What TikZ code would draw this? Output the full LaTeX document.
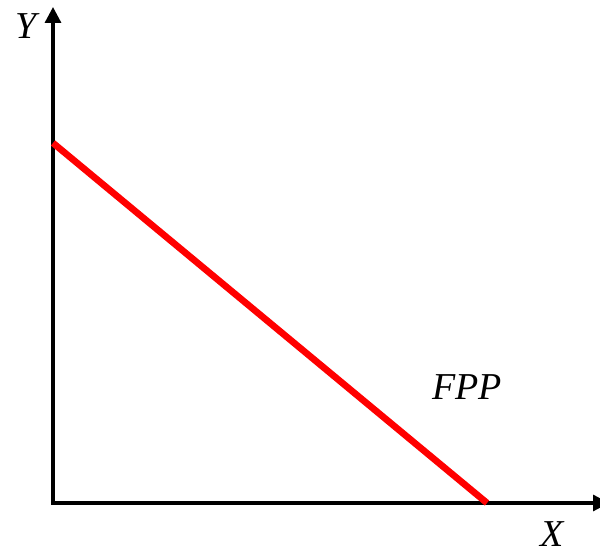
\documentclass[tikz,border=0pt]{standalone}
\usepackage{fontspec}
\setmainfont{Liberation Serif}[ItalicFont={Liberation Serif Italic}]
\usetikzlibrary{arrows.meta}
\begin{document}
\begin{tikzpicture}[x=0.75pt,y=0.75pt,
  axis/.style={line width=2.4pt,-{Triangle[length=12pt,width=12pt]}},
  curve/.style={red,line width=5pt},
  lbl/.style={font=\fontsize{28.5}{32}\selectfont\itshape,inner sep=0pt}]
\useasboundingbox (0,0) rectangle (600,553);
\coordinate (o) at (53,50);
\coordinate (ob) at (53,48);
\coordinate (ytop) at (53,546);
\coordinate (xend) at (609,50);
\coordinate (a) at (53,410);
\coordinate (b) at (487,50);
\draw[axis] (ob) -- (ytop);
\draw[axis] (o) -- (xend);
\draw[curve] (a) -- (b);
\node[lbl] (ylab) at (26,527) {Y};
\node[lbl] (xlab) at (552,19) {X};
\node[lbl] (fpp) at (467,166) {FPP};
\end{tikzpicture}
\end{document}
